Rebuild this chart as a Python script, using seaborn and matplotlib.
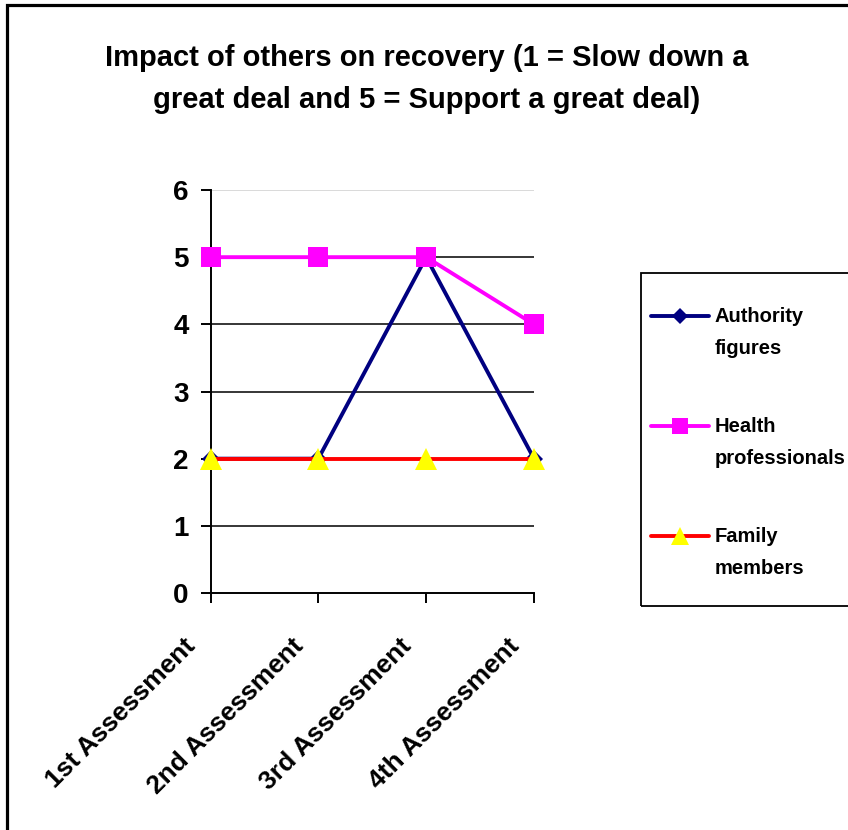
import matplotlib
matplotlib.use("Agg")
import numpy as np
import matplotlib.pyplot as plt
from matplotlib.patches import Rectangle
from matplotlib.transforms import ScaledTranslation
from matplotlib.legend_handler import HandlerLine2D
import seaborn as sns
import pandas as pd

# Data
assessments = ["1st Assessment", "2nd Assessment", "3rd Assessment", "4th Assessment"]
authority_figures = [2, 2, 5, 2]
health_professionals = [5, 5, 5, 4]
family_members = [2, 2, 2, 2]
series_labels = ["Authority\nfigures", "Health\nprofessionals", "Family\nmembers"]
y_ticks = [0, 1, 2, 3, 4, 5, 6]

sns.set_theme(style="white")
plt.rcParams["font.family"] = ["Liberation Sans", "DejaVu Sans"]
plt.rcParams["font.weight"] = "bold"
for key in ["text.color", "axes.labelcolor", "xtick.color", "ytick.color"]:
    plt.rcParams[key] = "black"

W, H = 848, 830
fig = plt.figure(figsize=(W / 100, H / 100), dpi=100)
ax = fig.add_axes([210.5 / W, 1 - 593 / H, 323.5 / W, 403 / H])

series = [
    (authority_figures, "#000080", "D", 9.5),
    (health_professionals, "#FF00FF", "s", 14),
    (family_members, "#FF0000", "^", 16),
]
handles = []
for i, (vals, col, mk, ms) in enumerate(series):
    df = pd.DataFrame({"Assessment": assessments, "Score": vals})
    mfc = "#FFFF00" if mk == "^" else col
    sns.lineplot(data=df, x="Assessment", y="Score", ax=ax, color=col,
                 linewidth=2.8, marker=mk, markersize=ms,
                 markerfacecolor=mfc, markeredgecolor=mfc,
                 markeredgewidth=0, sort=False, zorder=3 + i, clip_on=False)
    handles.append(ax.get_lines()[-1])

ax.set_xlim(0, 3)
ax.set_ylim(0, 6)
ax.set_yticks(y_ticks)
ax.set_xticks(range(len(assessments)))
ax.set_xlabel("")
ax.set_ylabel("")

# horizontal gridlines
for v in y_ticks[1:]:
    ax.axhline(v, color="#D0D0D0" if v == 6 else "black", linewidth=1.1, zorder=1)

for s in ["top", "right"]:
    ax.spines[s].set_visible(False)
for s in ["left", "bottom"]:
    ax.spines[s].set_color("black")
    ax.spines[s].set_linewidth(1.4)
ax.tick_params(axis="both", direction="out", length=7.2, width=1.4, color="black",
               left=True, bottom=True)
ax.tick_params(axis="y", pad=8.5)
ax.tick_params(axis="x", pad=22)

ax.set_xticklabels(assessments, rotation=45, ha="right", va="top",
                   fontsize=19, fontweight="bold")
ax.set_yticklabels([str(v) for v in y_ticks], fontsize=20, fontweight="bold")
# rotated category labels sit a little left of their ticks
shift_left = ScaledTranslation(-0.10, 0, fig.dpi_scale_trans)
for lab in ax.get_xticklabels():
    lab.set_transform(lab.get_transform() + shift_left)

# title (baseline of its last line)
fig.text(427 / W, 1 - 108 / H,
         "Impact of others on recovery (1 = Slow down a\ngreat deal and 5 = Support a great deal)",
         ha="center", va="baseline", fontsize=21, fontweight="bold", linespacing=1.62)


class FirstLineHandler(HandlerLine2D):
    """Line handle raised to sit beside the first line of a two-line label."""

    def __init__(self, lift, **kw):
        super().__init__(**kw)
        self.lift = lift

    def create_artists(self, legend, orig_handle, xdescent, ydescent, width,
                       height, fontsize, trans):
        arts = super().create_artists(legend, orig_handle, xdescent, ydescent,
                                      width, height, fontsize, trans)
        for a in arts:
            a.set_ydata(np.asarray(a.get_ydata()) + self.lift)
        return arts


# legend contents and its box
leg = fig.legend(handles, series_labels, loc="upper left",
                 bbox_to_anchor=(651 / W, 1 - 307 / H), frameon=False,
                 prop={"size": 14.5, "weight": "bold"}, markerscale=0.82,
                 handlelength=2.88, handletextpad=0.28, labelspacing=2.92,
                 borderpad=0, borderaxespad=0,
                 handler_map={h: FirstLineHandler(12.3) for h in handles})
for t in leg.get_texts():
    t.set_linespacing(1.87)
fig.patches.append(Rectangle((641 / W, 1 - 606 / H), 300 / W, 333 / H,
                             transform=fig.transFigure, fill=False,
                             edgecolor="black", linewidth=1.3))

# outer chart border
fig.patches.append(Rectangle((6.5 / W, -0.1), 1.2, 1.1 - 5 / H, transform=fig.transFigure,
                             fill=False, edgecolor="black", linewidth=2.3))

fig.savefig("out.png", dpi=100)
